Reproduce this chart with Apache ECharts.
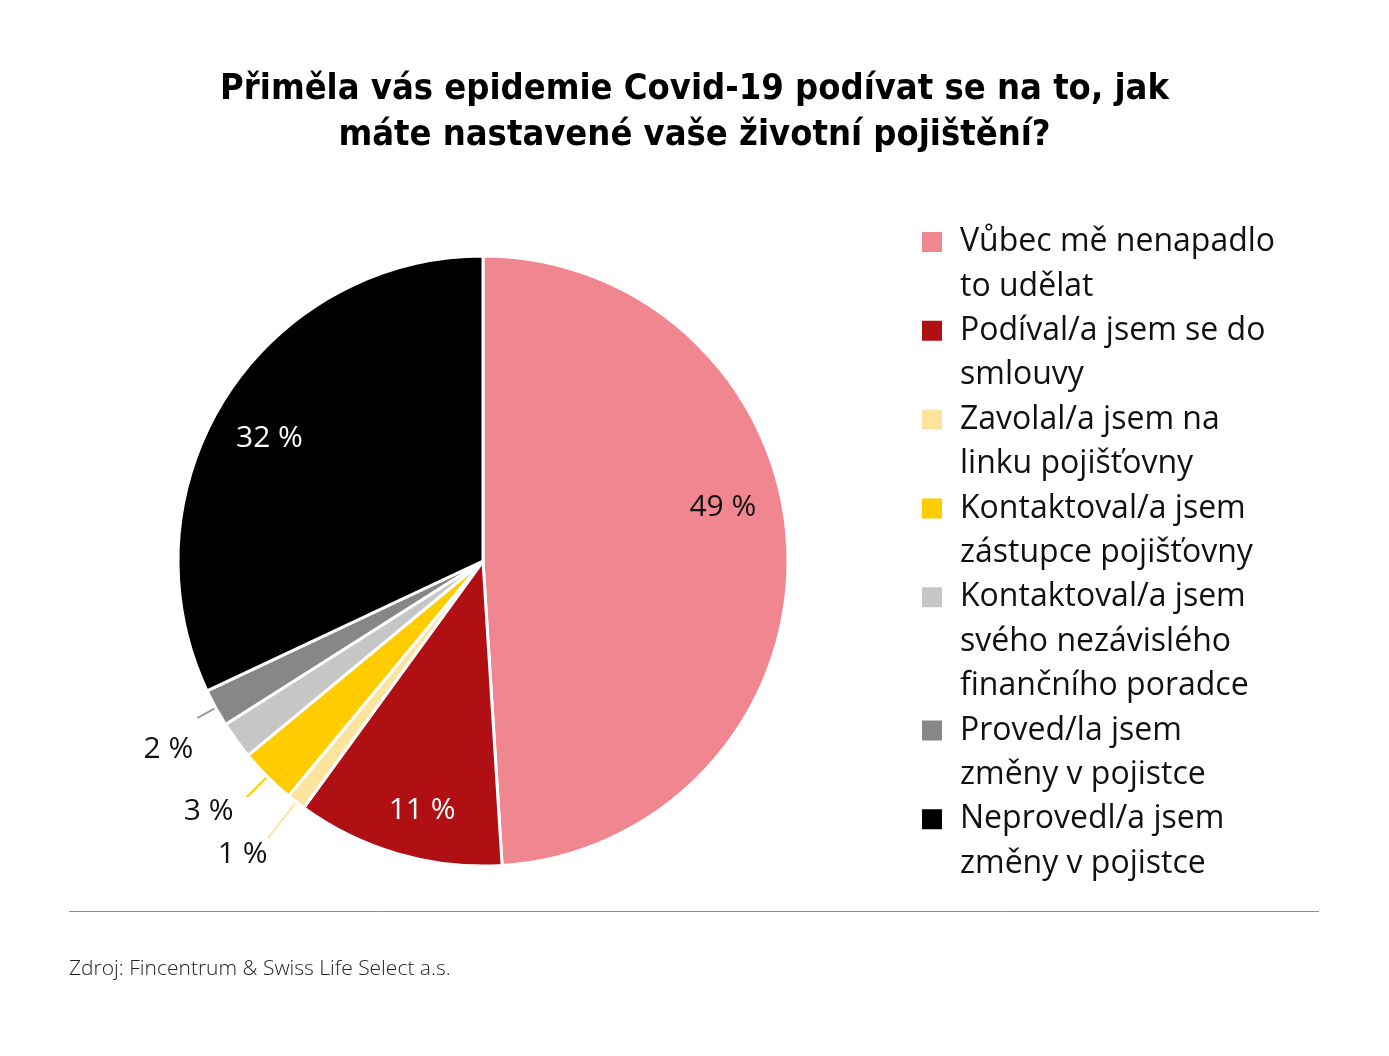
<!DOCTYPE html>
<html>
<head>
<meta charset="utf-8">
<script src="https://cdn.jsdelivr.net/npm/echarts@6/dist/echarts.min.js"></script>
<style>
html,body{margin:0;padding:0;background:#fff;}
#chart{width:1389px;height:1056px;}
</style>
</head>
<body>
<div id="chart"></div>
<script>
// ---- data ----
const categories = [
  'Vůbec mě nenapadlo to udělat',
  'Podíval/a jsem se do smlouvy',
  'Zavolal/a jsem na linku pojišťovny',
  'Kontaktoval/a jsem zástupce pojišťovny',
  'Kontaktoval/a jsem svého nezávislého finančního poradce',
  'Proved/la jsem změny v pojistce',
  'Neprovedl/a jsem změny v pojistce'
];
const values = [49, 11, 1, 3, 2, 2, 32];
const legendLabels = [
  'Vůbec mě nenapadlo\nto udělat',
  'Podíval/a jsem se do\nsmlouvy',
  'Zavolal/a jsem na\nlinku pojišťovny',
  'Kontaktoval/a jsem\nzástupce pojišťovny',
  'Kontaktoval/a jsem\nsvého nezávislého\nfinančního poradce',
  'Proved/la jsem\nzměny v pojistce',
  'Neprovedl/a jsem\nzměny v pojistce'
];
const colors = ['#F0868F', '#B00F14', '#FDE49C', '#FFCC00', '#C6C6C6', '#878787', '#000000'];
const titleText = 'Přiměla vás epidemie Covid-19 podívat se na to, jak\nmáte nastavené vaše životní pojištění?';
const sourceText = 'Zdroj: Fincentrum & Swiss Life Select a.s.';

// ---- layout ----
const FONT = '"Open Sans", "Noto Sans", sans-serif';
const CX = 483, CY = 561, R = 305;
const insideLabelIdx = [0, 1, 6];
const outsideLabelIdx = [2, 3, 5];
const outsideLineLen = {2: 45, 3: 28, 5: 20};
const outsideLabelDist = {2: 0, 3: 13, 5: 4};
const outsideLabelDy = {2: 17, 3: 15, 5: 32};

const chart = echarts.init(document.getElementById('chart'), null, {renderer: 'canvas'});

// one legend per item; swatch path drawn at the first text line
const LH = 44.4;
let yc = 242;
const legends = categories.map((name, i) => {
  const n = legendLabels[i].split('\n').length;
  const H = n * LH;
  const top = yc - LH / 2;
  yc += H;
  const s0 = (LH / 2 - 10).toFixed(1), s1 = (LH / 2 + 10).toFixed(1);
  const iconPath = 'path://M0,0h0.05v0.05h-0.05z M0,' + s0 + 'H20V' + s1 + 'H0z M19.95,' + H.toFixed(1) + 'h0.05v-0.05h-0.05z';
  return {
    show: true,
    orient: 'vertical',
    left: 922,
    top: top,
    padding: 0,
    itemWidth: 20,
    itemHeight: H,
    symbolKeepAspect: false,
    selectedMode: false,
    formatter: () => legendLabels[i],
    textStyle: {
      fontFamily: FONT,
      fontSize: 32,
      fontWeight: 400,
      color: '#111',
      lineHeight: LH,
      padding: [0, 0, 0, 13]
    },
    data: [{name: name, icon: iconPath, itemStyle: {color: colors[i], borderWidth: 0}}]
  };
});

const mainData = categories.map((name, i) => {
  const showOut = outsideLabelIdx.includes(i);
  return {
    name: name,
    value: values[i],
    itemStyle: {color: colors[i]},
    label: {show: showOut, distanceToLabelLine: outsideLabelDist[i] ?? 6},
    labelLine: {
      show: showOut,
      length: outsideLineLen[i] ?? 20,
      length2: 1,
      lineStyle: {color: i === 5 ? '#9a9a9a' : colors[i], width: 2}
    }
  };
});

const ringData = categories.map((name, i) => {
  const show = insideLabelIdx.includes(i);
  return {
    name: name,
    value: values[i],
    label: {
      show: show,
      color: (i === 0) ? '#111' : '#fff',
      offset: i === 0 ? [-7, -46] : (i === 1 ? [8, 12] : [-5, 10])
    }
  };
});

const option = {
  backgroundColor: '#ffffff',
  animation: false,
  title: [
    {
      text: titleText,
      left: 'center',
      top: 62,
      textStyle: {
        fontFamily: '"DejaVu Sans Condensed", "Liberation Sans Narrow", "Open Sans", sans-serif',
        fontSize: 36,
        fontWeight: 'bold',
        color: '#000',
        lineHeight: 46,
        align: 'center'
      }
    },
    {
      text: sourceText,
      left: 69,
      top: 959,
      padding: 0,
      textStyle: {fontFamily: FONT, fontSize: 21, fontWeight: 300, color: '#222'}
    }
  ],
  legend: legends,
  graphic: [{
    type: 'line',
    shape: {x1: 69, y1: 911.5, x2: 1319, y2: 911.5},
    style: {stroke: '#8a8a8a', lineWidth: 1}
  }],
  series: [
    {
      type: 'pie',
      center: [CX, CY],
      radius: [0, R],
      startAngle: 90,
      clockwise: true,
      avoidLabelOverlap: false,
      silent: true,
      itemStyle: {borderColor: '#ffffff', borderWidth: 3},
      label: {
        position: 'outside',
        formatter: p => p.value + ' %',
        fontFamily: FONT,
        fontSize: 30,
        fontWeight: 400,
        color: '#111'
      },
      labelLayout: p => ({dy: outsideLabelDy[p.dataIndex] ?? 15}),
      data: mainData
    },
    {
      type: 'pie',
      center: [CX, CY],
      radius: [R * 0.6, R],
      startAngle: 90,
      clockwise: true,
      silent: true,
      avoidLabelOverlap: false,
      itemStyle: {color: 'rgba(0,0,0,0)', borderWidth: 0},
      label: {
        position: 'inside',
        formatter: p => p.value + ' %',
        fontFamily: FONT,
        fontSize: 30,
        fontWeight: 400
      },
      labelLine: {show: false},
      data: ringData
    }
  ]
};
chart.setOption(option);
</script>
</body>
</html>
